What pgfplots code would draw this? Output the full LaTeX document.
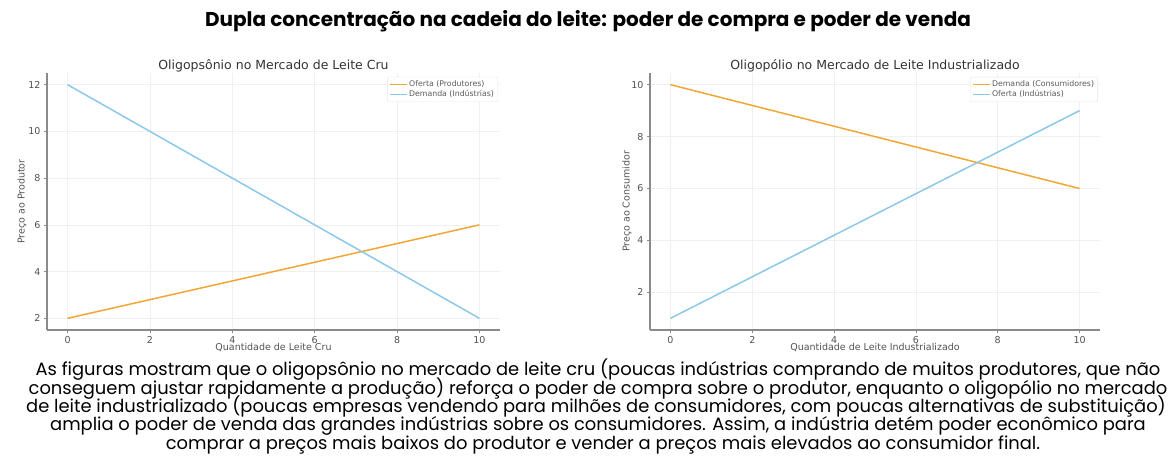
\documentclass[border=0pt]{standalone}
\usepackage{fontspec}
\setmainfont{DejaVu Sans}
\newfontfamily\capfont{Poppins}
\newcommand\capset{\capfont\fontsize{17.9}{20}\selectfont}
\usepackage{pgfplots}
\pgfplotsset{compat=1.18}
\definecolor{lorange}{HTML}{F2A634}
\definecolor{lblue}{HTML}{8CC8EA}
\definecolor{spine}{HTML}{8A8A8A}
\definecolor{txt}{HTML}{333333}
\pgfplotsset{
  myax/.style={
    scale only axis,
    width=#1, height=257pt,
    axis x line*=bottom, axis y line*=left,
    axis line style={spine, line width=1.6pt},
    every tick/.style={spine, line width=0.6pt},
    tick align=outside, major tick length=3pt,
    xmin=-0.5, xmax=10.5,
    xtick={0,2,4,6,8,10},
    grid=major, major grid style={gray!12, line width=0.6pt},
    tick label style={font=\fontsize{9.5}{11}\selectfont, text=txt!85},
    /pgf/number format/assume math mode=true,
    label style={font=\fontsize{9.5}{11}\selectfont, text=txt!85},
    every axis title shift=0pt,
    title style={font=\fontsize{12.5}{14}\selectfont, text=txt, at={(axis description cs:0.5,1)}, anchor=south, yshift=-3pt},
    xlabel style={at={(axis description cs:0.5,0)}, anchor=center, yshift=-18pt},
    legend style={font=\fontsize{7.8}{9}\selectfont, text=txt!80, draw=gray!20, rounded corners=1pt,
      at={(axis description cs:0.995,0.985)}, anchor=north east, inner sep=1.5pt, row sep=-1.5pt},
    legend cell align=left,
    legend image post style={line width=1pt},
  }
}
\begin{document}
\begin{tikzpicture}[x=1pt,y=1pt]
\useasboundingbox (0,0) rectangle (1168,457);
\node[font=\capfont\bfseries\fontsize{20}{23}\selectfont, text=black] at (588,436) {Dupla concentração na cadeia do leite: poder de compra e poder de venda};

\begin{axis}[myax=453pt, at={(47pt,127pt)}, anchor=south west,
  ymin=1.5, ymax=12.5, ytick={2,4,6,8,10,12},
  title={Oligopsônio no Mercado de Leite Cru},
  xlabel={Quantidade de Leite Cru},
  ylabel={Preço ao Produtor},
  ylabel style={at={(axis description cs:0,0.5)}, anchor=center, yshift=25pt},
]
\addplot[lorange, line width=1.5pt] coordinates {(0,2) (10,6)};
\addlegendentry{Oferta (Produtores)}
\addplot[lblue, line width=1.5pt] coordinates {(0,12) (10,2)};
\addlegendentry{Demanda (Indústrias)}
\end{axis}

\begin{axis}[myax=450pt, at={(650pt,127pt)}, anchor=south west,
  ymin=0.55, ymax=10.45, ytick={2,4,6,8,10},
  title={Oligopólio no Mercado de Leite Industrializado},
  xlabel={Quantidade de Leite Industrializado},
  ylabel={Preço ao Consumidor},
  ylabel style={at={(axis description cs:0,0.5)}, anchor=center, yshift=23pt},
]
\addplot[lorange, line width=1.5pt] coordinates {(0,10) (10,6)};
\addlegendentry{Demanda (Consumidores)}
\addplot[lblue, line width=1.5pt] coordinates {(0,1) (10,9)};
\addlegendentry{Oferta (Indústrias)}
\end{axis}

\begin{scope}[every node/.style={font=\capset, text=black, anchor=base, inner sep=0pt}]
\node at (598,81) {As figuras mostram que o oligopsônio no mercado de leite cru (poucas indústrias comprando de muitos produtores, que não};
\node at (598,62.7) {conseguem ajustar rapidamente a produção) reforça o poder de compra sobre o produtor, enquanto o oligopólio no mercado};
\node at (596,44.4) {de leite industrializado (poucas empresas vendendo para milhões de consumidores, com poucas alternativas de substituição)};
\node at (598,26.1) {amplia o poder de venda das grandes indústrias sobre os consumidores. Assim, a indústria detém poder econômico para};
\node at (603,7.8) {comprar a preços mais baixos do produtor e vender a preços mais elevados ao consumidor final.};
\end{scope}
\end{tikzpicture}
\end{document}
